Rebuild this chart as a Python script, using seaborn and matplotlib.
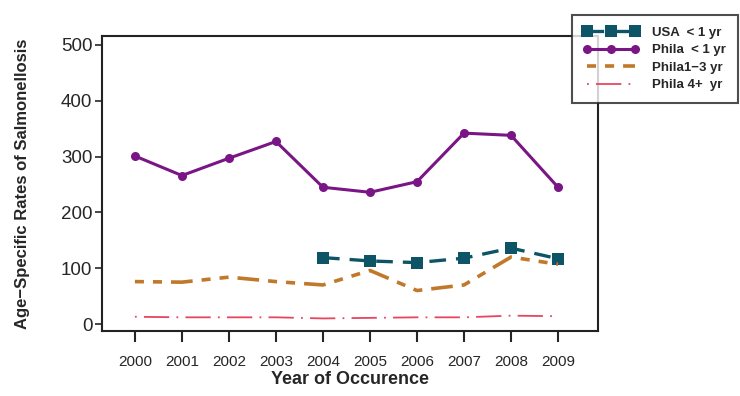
import matplotlib
matplotlib.use("Agg")
import matplotlib.pyplot as plt
import seaborn as sns

years = [2000, 2001, 2002, 2003, 2004, 2005, 2006, 2007, 2008, 2009]
usa_lt1_years = [2004, 2005, 2006, 2007, 2008, 2009]
usa_lt1 = [119, 113, 110, 118, 136, 117]
phila_lt1 = [301, 266, 297, 327, 245, 236, 255, 342, 338, 245]
phila_1_3 = [76, 75, 84, 76, 70, 96, 60, 70, 120, 107]
phila_4p = [13, 12, 12, 12, 10, 11, 12, 12, 15, 14]
labels = ["USA  < 1 yr", "Phila  < 1 yr", "Phila1\u22123 yr", "Phila 4+  yr"]

sns.set_style("ticks")
plt.rcParams["font.family"] = ["Liberation Sans", "DejaVu Sans"]

fig = plt.figure(figsize=(7.4, 3.96), dpi=100)
ax = fig.add_axes([102 / 740, 1 - 331 / 396, 496 / 740, 295 / 396])

sns.lineplot(x=usa_lt1_years, y=usa_lt1, ax=ax, color="#0d5566", lw=2.4,
             marker="s", markersize=8, label=labels[0])
ax.lines[-1].set_dashes([5, 3])
sns.lineplot(x=years, y=phila_lt1, ax=ax, color="#7a1585", lw=2.2,
             marker="o", markersize=6.5, label=labels[1])
sns.lineplot(x=years, y=phila_1_3, ax=ax, color="#c0782a", lw=2.6, label=labels[2])
ax.lines[-1].set_dashes([2.5, 2.5, 2.5, 2.5, 6, 2.5])
sns.lineplot(x=years, y=phila_4p, ax=ax, color="#e84560", lw=1.3, label=labels[3])
ax.lines[-1].set_dashes([1, 4, 14, 4])
for l in ax.lines:
    l.set_markeredgewidth(0)

ax.set_xlim(1999.30, 2009.85)
ax.set_ylim(-12.5, 516)
ax.set_xticks(years)
ax.set_xticklabels([str(y) for y in years], fontsize=11)
ax.set_yticks([0, 100, 200, 300, 400, 500])
ax.tick_params(axis="y", labelsize=13.5, length=5, width=1.2, pad=2)
ax.tick_params(axis="x", length=8, width=1.5, pad=9)
for s in ax.spines.values():
    s.set_visible(True)
    s.set_linewidth(1.5)
    s.set_color("#222222")
ax.set_xlabel("Year of Occurence", fontsize=13, fontweight="bold", labelpad=2)
ax.set_ylabel("Age\u2212Specific Rates of Salmonellosis", fontsize=12, fontweight="bold", labelpad=22)

leg = ax.legend(loc="upper left", bbox_to_anchor=(565 / 740, 1 - 8 / 396),
                bbox_transform=fig.transFigure, frameon=True, fancybox=False,
                fontsize=9.5, handlelength=4.2, handletextpad=1.0,
                borderpad=0.9, labelspacing=0.4, numpoints=3,
                edgecolor="#222222")
leg.get_frame().set_linewidth(1.5)
for t in leg.get_texts():
    t.set_fontweight("bold")

fig.savefig("out.png", dpi=100)
